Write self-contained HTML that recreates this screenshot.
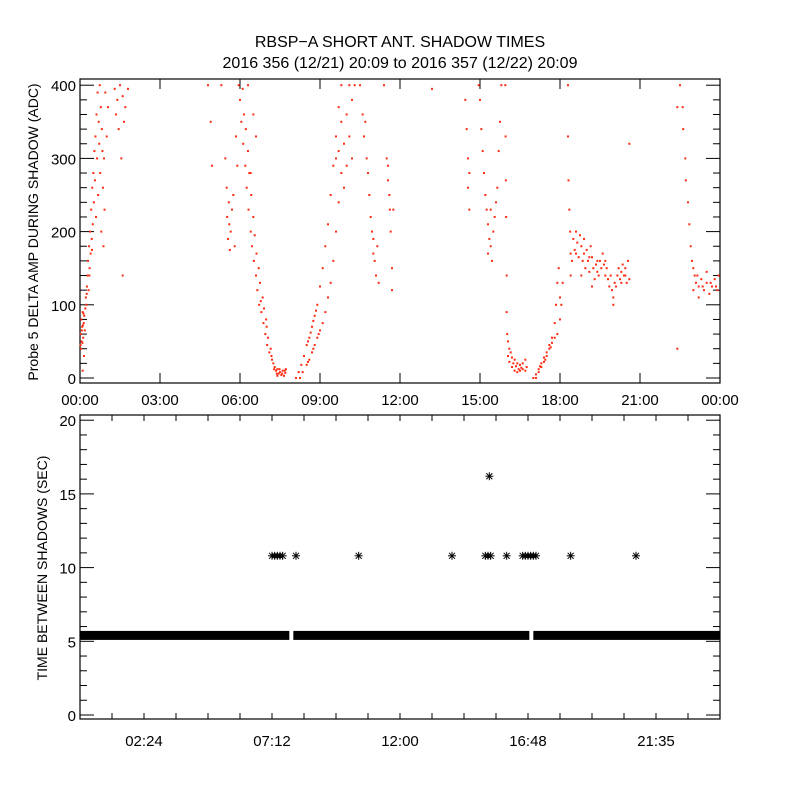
<!DOCTYPE html>
<html><head><meta charset="utf-8"><style>
body{margin:0;background:#fff;}
svg text{font-family:"Liberation Sans",sans-serif;fill:#000;}
</style></head><body>
<svg id="chart" width="800" height="800" viewBox="0 0 800 800" xmlns="http://www.w3.org/2000/svg">
<rect width="800" height="800" fill="#fff"/>
<text x="400" y="47" font-size="16" text-anchor="middle">RBSP−A SHORT ANT. SHADOW TIMES</text>
<text x="400" y="68" font-size="16" text-anchor="middle">2016 356 (12/21) 20:09 to 2016 357 (12/22) 20:09</text>
<g id="topPanel"></g>
<g id="botPanel"></g>
</svg>
<script>
const ampSegA=[[0.02,45],[0.03,60],[0.05,80],[0.06,50],[0.08,70],[0.1,90],[0.12,55],[0.14,75],[0.16,85],[0.18,65],[0.2,95],[0.22,110],[0.24,100],[0.26,125],[0.28,140],[0.3,160],[0.32,120],[0.34,180],[0.36,150],[0.38,200],[0.4,170],[0.42,230],[0.44,190],[0.46,260],[0.48,210],[0.5,280],[0.52,240],[0.54,310],[0.56,270],[0.58,330],[0.6,220],[0.62,360],[0.64,300],[0.66,390],[0.68,250],[0.7,350],[0.72,320],[0.74,400],[0.76,280],[0.78,370],[0.8,200],[0.82,340],[0.84,310],[0.86,260],[0.88,180],[0.9,300],[0.92,230],[0.95,390],[1.0,330],[1.05,370],[1.3,395],[1.35,360],[1.4,380],[1.45,340],[1.5,400],[1.55,300],[1.6,385],[1.65,350],[1.7,370],[1.8,395],[1.6,140],[0.15,30],[0.1,10],[0.04,40],[0.07,65],[0.09,48],[0.11,72],[0.13,88],[0.25,115],[0.35,140],[0.45,175]];
const ampSegB=[[5.45,300],[5.5,260],[5.52,220],[5.55,190],[5.58,240],[5.6,210],[5.62,175],[5.65,200],[5.7,230],[5.75,250],[5.8,180],[5.85,330],[5.9,290],[5.3,400],[4.8,400],[4.9,350],[4.95,290],[5.95,400],[6.0,380],[6.05,350],[6.1,395],[6.12,320],[6.15,360],[6.2,290],[6.22,340],[6.25,260],[6.3,310],[6.32,230],[6.35,280],[6.4,200],[6.42,250],[6.45,180],[6.5,220],[6.52,160],[6.55,195],[6.6,140],[6.62,170],[6.65,120],[6.7,150],[6.72,100],[6.75,130],[6.8,90],[6.85,110],[6.88,75],[6.9,95],[6.95,60],[7.0,70],[7.02,45],[7.05,55],[7.1,35],[7.15,40],[7.2,25],[7.25,20],[7.3,15],[7.35,10],[7.4,12],[7.45,6],[7.5,8],[7.55,4],[7.6,10],[7.65,3],[7.7,7],[7.72,12],[7.4,3],[6.3,400],[6.5,360],[6.6,330],[6.4,280],[7.18,30],[7.28,12],[7.38,6],[7.48,12],[7.58,6],[7.68,10],[6.98,80],[6.78,105]];
const ampSegC=[[8.1,0],[8.2,8],[8.3,18],[8.4,30],[8.5,45],[8.6,55],[8.7,70],[8.8,85],[8.9,100],[9.0,125],[9.1,150],[9.2,180],[9.3,210],[9.4,250],[9.5,290],[9.6,330],[9.7,370],[9.8,400],[8.25,0],[8.35,8],[8.5,18],[8.6,25],[8.7,35],[8.8,45],[8.9,55],[9.0,65],[9.1,75],[9.2,90],[9.3,110],[9.4,130],[9.5,160],[9.6,200],[9.7,240],[9.8,280],[9.9,320],[10.0,360],[10.1,400],[9.6,300],[9.7,310],[9.8,350],[9.9,260],[10.0,290],[10.1,330],[10.2,380],[10.3,400],[10.2,300],[10.5,400],[10.6,360],[10.65,330],[10.7,350],[10.75,300],[10.8,280],[10.85,250],[10.9,220],[10.95,200],[11.0,170],[11.05,160],[11.1,140],[11.15,180],[11.2,130],[11.0,190],[11.5,300],[11.55,270],[11.6,250],[11.62,230],[11.65,200],[11.7,150],[11.7,120],[11.55,290],[11.4,400],[11.75,230],[13.2,395],[8.55,50],[8.65,62],[8.75,78],[8.85,92],[8.55,22],[8.75,40],[8.95,60]];
const ampSegE=[[14.45,380],[14.5,340],[14.55,300],[14.55,260],[14.6,230],[14.6,280],[14.95,400],[15.0,380],[15.05,340],[15.1,310],[15.15,280],[15.2,250],[15.25,230],[15.3,210],[15.35,190],[15.4,180],[15.45,160],[15.5,200],[15.55,220],[15.6,240],[15.65,260],[15.4,230],[15.3,170],[15.7,310],[15.75,350],[15.8,400],[15.95,400],[15.96,330],[15.97,270],[15.98,220],[16.0,140],[16.0,90],[16.02,60],[16.05,50],[16.1,40],[16.15,35],[16.2,28],[16.3,25],[16.4,20],[16.5,18],[16.6,20],[16.7,25],[16.75,15],[16.05,30],[16.1,22],[16.2,15],[16.3,10],[16.4,8],[16.5,10],[16.6,12],[16.7,10],[17.0,0],[17.1,5],[17.2,12],[17.3,20],[17.4,28],[17.5,35],[17.6,40],[17.7,48],[17.8,55],[17.9,60],[18.0,80],[18.05,100],[18.1,130],[17.1,0],[17.2,8],[17.3,15],[17.4,22],[17.5,30],[17.6,45],[17.7,55],[17.8,75],[17.85,100],[17.9,130],[17.95,150],[18.0,110],[18.3,400],[18.3,330],[18.32,270],[18.35,230],[18.38,200],[18.4,170],[18.4,140],[18.45,160],[16.25,20],[16.35,16],[16.45,12],[16.55,14],[17.25,16],[17.45,25],[17.65,42]];
const ampSegN=[[18.5,190],[18.55,175],[18.6,200],[18.65,185],[18.7,165],[18.75,195],[18.8,180],[18.85,160],[18.9,170],[18.95,150],[19.0,175],[19.05,160],[19.1,145],[19.15,180],[19.2,165],[19.25,150],[19.3,135],[19.35,155],[19.4,145],[19.45,140],[19.5,160],[19.55,150],[19.6,170],[19.65,155],[19.7,140],[19.75,150],[19.8,135],[19.85,125],[19.9,140],[19.95,120],[20.0,110],[20.05,130],[20.1,125],[20.15,140],[20.2,150],[20.25,135],[20.3,145],[20.35,155],[20.4,140],[20.45,150],[20.5,130],[20.55,160],[20.6,135],[19.2,125],[18.8,140],[20.0,100],[20.6,320],[18.6,170],[18.9,190],[19.1,165],[19.4,160],[19.7,160],[20.3,130],[20.45,140]];
const ampSegF=[[22.5,400],[22.6,370],[22.62,340],[22.7,300],[22.72,270],[22.8,240],[22.85,210],[22.9,180],[22.95,160],[23.0,150],[23.05,140],[23.1,130],[23.2,125],[23.3,135],[23.4,120],[23.5,130],[23.6,115],[23.7,125],[23.8,135],[23.9,120],[23.95,140],[23.2,110],[23.5,145],[23.0,120],[22.4,370],[22.4,40],[23.15,140],[23.35,125],[23.65,130],[23.85,125]];
const topXTicks=["00:00","03:00","06:00","09:00","12:00","15:00","18:00","21:00","00:00"];
const topYTicks=[0,100,200,300,400];
const botXTicks=["02:24","07:12","12:00","16:48","21:35"];
const botYTicks=[0,5,10,15,20];
const bandSegments=[[0,7.85],[8.0,16.85],[17.0,24]];
const bandValue=5.4;
const asteriskTimes10=[7.2,7.3,7.4,7.5,7.6,8.1,10.45,13.95,15.2,15.3,15.4,16.0,16.6,16.7,16.8,16.9,17.0,17.1,18.4,20.85];
const asteriskValue10=10.8;
const asteriskTimes16=[15.35];
const asteriskValue16=16.2;

const NS="http://www.w3.org/2000/svg";
function mk(tag,attrs,parent){const e=document.createElementNS(NS,tag);for(const k in attrs)e.setAttribute(k,attrs[k]);parent.appendChild(e);return e;}
const X0=80,X1=720;
const xs=t=>X0+(X1-X0)*t/24;
const topY=v=>378-v*0.732;
const botY=v=>715-v*14.74;
const topG=document.getElementById('topPanel'),botG=document.getElementById('botPanel');

let f=mk('rect',{x:80,y:79,width:640,height:304,fill:'none',stroke:'#000','stroke-width':1.2},topG);


for(let i=0;i<topXTicks.length;i++){const x=X0+i*80;
 mk('line',{x1:x,y1:383,x2:x,y2:373,stroke:'#000'},topG);
 mk('line',{x1:x,y1:79,x2:x,y2:89,stroke:'#000'},topG);
 const t=mk('text',{x:x,y:405,'font-size':15,'text-anchor':'middle'},topG);t.textContent=topXTicks[i];
 
 }
for(let v=0;v<=400;v+=20){const y=topY(v);const L=(v%100===0)?14:7;
 mk('line',{x1:80,y1:y,x2:80+L,y2:y,stroke:'#000'},topG);
 mk('line',{x1:720,y1:y,x2:720-L,y2:y,stroke:'#000'},topG);}
topYTicks.forEach(v=>{const t=mk('text',{x:76,y:topY(v)+6,'font-size':15,'text-anchor':'end'},topG);t.textContent=v;
 
 });
let yt=mk('text',{x:0,y:0,'font-size':14,'text-anchor':'middle',transform:'translate(38,232) rotate(-90)'},topG);
yt.textContent='Probe 5 DELTA AMP DURING SHADOW (ADC)';


[ampSegA,ampSegB,ampSegC,ampSegE,ampSegN,ampSegF].forEach(seg=>seg.forEach(p=>{
 const r=mk('rect',{x:xs(p[0])-1,y:topY(p[1])-1,width:2,height:2,fill:'#ff2a10'},topG);
 
 }));

f=mk('rect',{x:80,y:415,width:640,height:304,fill:'none',stroke:'#000','stroke-width':1.2},botG);


for(let i=0;i<=20;i++){const x=X0+i*32;
 mk('line',{x1:x,y1:719,x2:x,y2:713,stroke:'#000'},botG);
 mk('line',{x1:x,y1:415,x2:x,y2:421,stroke:'#000'},botG);}
botXTicks.forEach((s,i)=>{const t=mk('text',{x:X0+64+i*128,y:746,'font-size':15,'text-anchor':'middle'},botG);t.textContent=s;
 
 });
for(let v=0;v<=20;v+=1){const y=botY(v);const L=(v%5===0)?14:7;
 mk('line',{x1:80,y1:y,x2:80+L,y2:y,stroke:'#000'},botG);
 mk('line',{x1:720,y1:y,x2:720-L,y2:y,stroke:'#000'},botG);}
botYTicks.forEach(v=>{const t=mk('text',{x:76,y:botY(v)+6,'font-size':15,'text-anchor':'end'},botG);t.textContent=v;
 
 });
yt=mk('text',{x:0,y:0,'font-size':14,'text-anchor':'middle',transform:'translate(47,568) rotate(-90)'},botG);
yt.textContent='TIME BETWEEN SHADOWS (SEC)';


bandSegments.forEach(s=>{const y=botY(bandValue);
 const r=mk('rect',{x:xs(s[0]),y:y-4.5,width:xs(s[1])-xs(s[0]),height:9,fill:'#000'},botG);
 
 });
function star(t,v){const cx=xs(t),cy=botY(v);const g=mk('g',{stroke:'#000','stroke-width':1},botG);
 
 
 mk('line',{x1:cx-4,y1:cy,x2:cx+4,y2:cy},g);mk('line',{x1:cx,y1:cy-4,x2:cx,y2:cy+4},g);
 mk('line',{x1:cx-3,y1:cy-3,x2:cx+3,y2:cy+3},g);mk('line',{x1:cx-3,y1:cy+3,x2:cx+3,y2:cy-3},g);}
asteriskTimes10.forEach(t=>star(t,asteriskValue10));
asteriskTimes16.forEach(t=>star(t,asteriskValue16));
</script>
</body></html>
